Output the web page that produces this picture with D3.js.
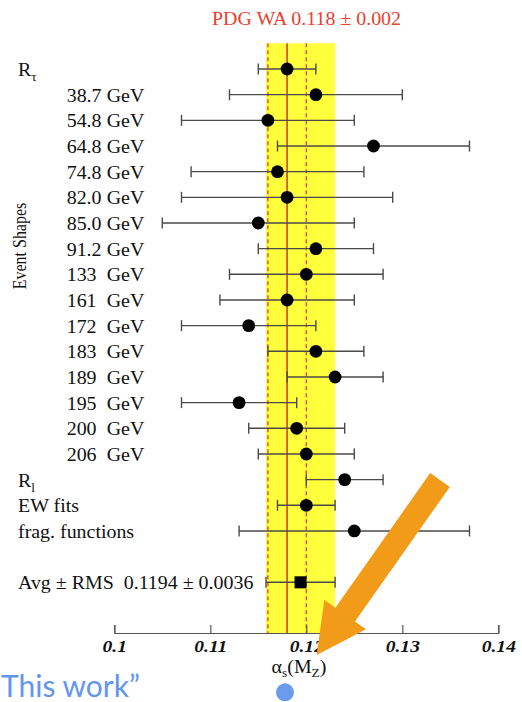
<!DOCTYPE html>
<html>
<head>
<meta charset="utf-8">
<style>
  body { margin: 0; background: #fff; }
  svg { display: block; }
  .lab { font-family: "Liberation Serif", "Times New Roman", serif; font-size: 17.8px; fill: #111; white-space: pre; }
  .tick text { font-family: "Liberation Serif", serif; font-size: 17.5px; font-weight: bold; font-style: italic; fill: #111; }
</style>
<script src="https://cdnjs.cloudflare.com/ajax/libs/d3/7.8.5/d3.min.js"></script>
</head>
<body>
<svg id="chart"></svg>
<script>
  // measurements, top to bottom
  var energies = ["38.7", "54.8", "64.8", "74.8", "82.0", "85.0", "91.2", "133", "161", "172", "183", "189", "195", "200", "206"];
  var names = ["R_tau"].concat(energies).concat(["R_l", "EW fits", "frag. functions"]);
  var central = [0.118, 0.121, 0.116, 0.127, 0.117, 0.118, 0.115, 0.121, 0.120, 0.118, 0.114, 0.121, 0.123, 0.113, 0.119, 0.120, 0.124, 0.120, 0.125];
  var low     = [0.115, 0.112, 0.107, 0.117, 0.108, 0.107, 0.105, 0.115, 0.112, 0.111, 0.107, 0.116, 0.118, 0.107, 0.114, 0.115, 0.120, 0.117, 0.113];
  var high    = [0.121, 0.130, 0.125, 0.137, 0.126, 0.129, 0.125, 0.127, 0.128, 0.125, 0.121, 0.126, 0.128, 0.119, 0.124, 0.125, 0.128, 0.123, 0.137];

  var avg = 0.1194, rms = 0.0036;
  var pdg = 0.118, pdgErr = 0.002;

  var tickValues = [0.1, 0.11, 0.12, 0.13, 0.14];
  var tickLabels = ["0.1", "0.11", "0.12", "0.13", "0.14"];

  var w = 522, h = 702;
  var axisY = 633;
  var avgRow = 20;
  var sx = 1.12; // the original figure is a bit wider than tall

  var svg = d3.select("#chart").attr("width", w).attr("height", h);

  var x = d3.scaleLinear().domain([0.1, 0.14]).range([114.3, 498.3]);
  var y = d3.scaleLinear().domain([0, 20]).range([69, 582.3]);

  function label(g, px, py) {
    return g.append("text").attr("class", "lab")
      .attr("transform", "translate(" + px + "," + py + ") scale(" + sx + ",1)");
  }

  // RMS band + PDG lines
  svg.append("rect")
    .attr("x", x(avg - rms)).attr("y", 43.3)
    .attr("width", x(avg + rms) - x(avg - rms))
    .attr("height", axisY - 43.3)
    .attr("fill", "#ffff3c");

  svg.append("line")
    .attr("x1", x(pdg)).attr("x2", x(pdg))
    .attr("y1", 43.3).attr("y2", axisY)
    .attr("stroke", "#d2452b").attr("stroke-width", 1.6);

  svg.selectAll("line.pdgerr")
    .data([pdg - pdgErr, pdg + pdgErr])
    .enter().append("line")
    .attr("class", "pdgerr")
    .attr("x1", function(d) { return x(d); }).attr("x2", function(d) { return x(d); })
    .attr("y1", 43.3).attr("y2", axisY)
    .attr("stroke", "#ea3a2a").attr("stroke-width", 1.3)
    .attr("stroke-dasharray", "4,3");

  label(svg, 306.5, 25)
    .attr("text-anchor", "middle")
    .style("fill", "#e8412f")
    .text("PDG WA 0.118 \u00b1 0.002");

  // error bars
  var rows = central.map(function(d, i) { return { v: d, lo: low[i], hi: high[i], row: i }; });
  var all = rows.concat([{ v: avg, lo: avg - rms, hi: avg + rms, row: avgRow }]);

  var bars = svg.append("g").attr("stroke", "#4a4a4a").attr("stroke-width", 1.4);
  bars.selectAll("line.bar").data(all).enter().append("line")
    .attr("x1", function(d) { return x(d.lo); })
    .attr("x2", function(d) { return x(d.hi); })
    .attr("y1", function(d) { return y(d.row); })
    .attr("y2", function(d) { return y(d.row); });
  bars.selectAll("line.capl").data(all).enter().append("line")
    .attr("x1", function(d) { return x(d.lo); })
    .attr("x2", function(d) { return x(d.lo); })
    .attr("y1", function(d) { return y(d.row) - 5.5; })
    .attr("y2", function(d) { return y(d.row) + 5.5; });
  bars.selectAll("line.caph").data(all).enter().append("line")
    .attr("x1", function(d) { return x(d.hi); })
    .attr("x2", function(d) { return x(d.hi); })
    .attr("y1", function(d) { return y(d.row) - 5.5; })
    .attr("y2", function(d) { return y(d.row) + 5.5; });

  svg.selectAll("circle.pt").data(rows).enter().append("circle")
    .attr("cx", function(d) { return x(d.v); })
    .attr("cy", function(d) { return y(d.row); })
    .attr("r", 6.4)
    .attr("fill", "#000");

  svg.append("rect")
    .attr("x", x(avg) - 6).attr("y", y(avgRow) - 6)
    .attr("width", 12).attr("height", 12)
    .attr("fill", "#000");

  // row labels
  var lab = svg.append("g");
  var rt = label(lab, 18, y(0) + 7);
  rt.append("tspan").text("R");
  rt.append("tspan").attr("dy", 5).style("font-size", "12px").text("\u03c4");

  energies.forEach(function(e, i) {
    label(lab, 66.7, y(i + 1) + 7).text(e);
    label(lab, 106.7, y(i + 1) + 7).text("GeV");
  });

  var rl = label(lab, 18, y(16) + 7);
  rl.append("tspan").text("R");
  rl.append("tspan").attr("dy", 5).style("font-size", "12px").text("l");

  label(lab, 18, y(17) + 7).text(names[17]);
  label(lab, 18, y(18) + 7).text(names[18]);
  label(lab, 18, y(avgRow) + 6.5)
    .text("Avg \u00b1 RMS  " + avg.toFixed(4) + " \u00b1 " + rms.toFixed(4));

  lab.append("text").attr("class", "lab")
    .attr("transform", "translate(26,246) scale(" + sx + ",1) rotate(-90)")
    .attr("text-anchor", "middle")
    .style("font-size", "16px")
    .text("Event Shapes");

  // x axis
  var xAxis = d3.axisBottom(x)
    .tickValues(tickValues)
    .tickFormat(function(d, i) { return tickLabels[i]; })
    .tickSize(-8)
    .tickPadding(7);

  var ax = svg.append("g")
    .attr("transform", "translate(0," + axisY + ")")
    .call(xAxis);
  ax.select(".domain").attr("stroke", "#555").attr("stroke-width", 1.2);
  ax.selectAll(".tick line").attr("stroke", "#555").attr("stroke-width", 1.2);
  ax.selectAll(".tick text").attr("transform", "scale(" + sx + ",1)");

  var xt = label(svg, 299, 673).attr("text-anchor", "middle");
  xt.append("tspan").text("\u03b1");
  xt.append("tspan").attr("dy", 4).style("font-size", "12px").text("s");
  xt.append("tspan").attr("dy", -4).text("(M");
  xt.append("tspan").attr("dy", 4).style("font-size", "12px").text("Z");
  xt.append("tspan").attr("dy", -4).text(")");

  // annotation overlay: arrow, "This work" and blue dot
  var tail = [440, 480], tip = [x(0.12108), 655];
  var dx = tip[0] - tail[0], dy = tip[1] - tail[1];
  var len = Math.sqrt(dx * dx + dy * dy);
  var ux = dx / len, uy = dy / len, nx = -uy, ny = ux;
  var sw = 12, hw = 25.5, hl = 49.5;
  var bx = tip[0] - ux * hl, by = tip[1] - uy * hl;
  var arrowPts = [
    [tail[0] + nx * sw, tail[1] + ny * sw],
    [bx + nx * sw, by + ny * sw],
    [bx + nx * hw, by + ny * hw],
    tip,
    [bx - nx * hw, by - ny * hw],
    [bx - nx * sw, by - ny * sw],
    [tail[0] - nx * sw, tail[1] - ny * sw]
  ];
  svg.append("path")
    .attr("d", d3.line()(arrowPts) + "Z")
    .attr("fill", "#f29b18");

  svg.append("text")
    .attr("x", 1).attr("y", 697)
    .style("font-family", "Lato, 'Open Sans', sans-serif")
    .style("font-size", "30px")
    .style("fill", "#6495ed")
    .text("This work\u201d");

  svg.append("circle")
    .attr("cx", 285).attr("cy", 692.3).attr("r", 9)
    .attr("fill", "#6a9ceb");
</script>
</body>
</html>
